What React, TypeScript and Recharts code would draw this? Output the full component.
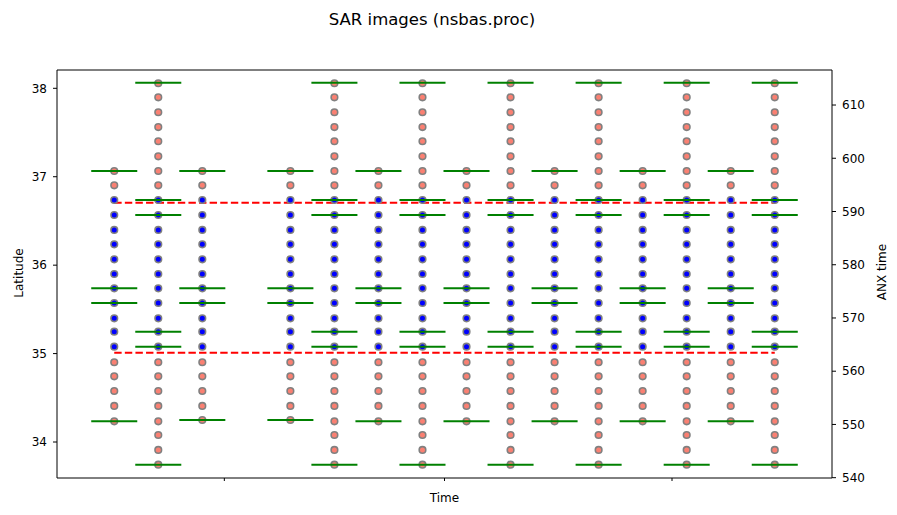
import React from 'react';
import { ComposedChart, ReferenceLine, Scatter, XAxis, YAxis } from 'recharts';

const FONT = '"DejaVu Sans", Verdana, sans-serif';

// acquisition dates, in days from the first image (one date missing at day 18)
const DATES = [0, 6, 12, 24, 30, 36, 42, 48, 54, 60, 66, 72, 78, 84, 90];

// which frame was acquired on each date
const FRAMES = ['S', 'L', 'Sb', 'Sb', 'L', 'S', 'L', 'S', 'L', 'S', 'L', 'S', 'L', 'S', 'L'];

// burst centre latitudes of each frame
const LONG_BURSTS = [
  38.057, 37.898, 37.729, 37.562, 37.401, 37.231, 37.065, 36.903, 36.737,
  36.567, 36.398, 36.236, 36.066, 35.9, 35.738, 35.572, 35.399, 35.248,
  35.078, 34.902, 34.743, 34.577, 34.408, 34.234, 34.079, 33.91, 33.744,
];
const SHORT_BURSTS = [
  37.065, 36.903, 36.737, 36.567, 36.398, 36.236, 36.066, 35.9, 35.738,
  35.572, 35.399, 35.248, 35.078, 34.902, 34.743, 34.577, 34.408, 34.234,
];
const SHORT_BURSTS_B = [
  37.065, 36.903, 36.737, 36.567, 36.398, 36.236, 36.066, 35.9, 35.738,
  35.572, 35.399, 35.248, 35.078, 34.902, 34.743, 34.577, 34.408, 34.249,
];

// subswath limits (green marks)
const LONG_EDGES = [38.063, 36.737, 36.567, 35.248, 35.078, 33.744];
const SHORT_EDGES = [37.065, 35.738, 35.572, 34.234];
const SHORT_EDGES_B = [37.065, 35.738, 35.572, 34.249];

// area of interest
const LAT_MIN = 35.01;
const LAT_MAX = 36.706;
const HALF_BURST = 0.083;
const HALF_SPAN_DAYS = 3;

const LAT_DOMAIN = [33.593, 38.207];
const LAT_TICKS = [34, 35, 36, 37, 38];
const ANX_DOMAIN = [539.94, 616.58];
const ANX_TICKS = [540, 550, 560, 570, 580, 590, 600, 610];
const TIME_DOMAIN = [-7.8, 97.8];
const TIME_TICKS = [15, 45, 76];

const BURSTS: Record<string, number[]> = { L: LONG_BURSTS, S: SHORT_BURSTS, Sb: SHORT_BURSTS_B };
const EDGES: Record<string, number[]> = { L: LONG_EDGES, S: SHORT_EDGES, Sb: SHORT_EDGES_B };

const points = DATES.flatMap((d, i) => BURSTS[FRAMES[i]].map((lat) => ({ x: d, y: lat })));
const isInside = (p: { y: number }) => p.y - HALF_BURST < LAT_MAX && p.y + HALF_BURST > LAT_MIN;
const insidePts = points.filter(isInside);
const outsidePts = points.filter((p) => !isInside(p));

const segments = DATES.flatMap((d, i) =>
  EDGES[FRAMES[i]].map((lat) => [
    { x: d - HALF_SPAN_DAYS, y: lat },
    { x: d + HALF_SPAN_DAYS, y: lat },
  ])
);

const boxLines = [LAT_MIN, LAT_MAX].map((lat) => [
  { x: DATES[0], y: lat },
  { x: DATES[DATES.length - 1], y: lat },
]);

const dot = (fill: string) => (props: any) =>
  <circle cx={props.cx} cy={props.cy} r={3.3} fill={fill} stroke="#808080" strokeWidth={1.6} />;
const noDot = () => <g />;

const tickStyle = { fill: '#000', fontSize: 12, fontFamily: FONT };

export default function App() {
  return (
    <div style={{ position: 'absolute', left: 0, top: 0, width: 897, height: 515, background: '#fff' }}>
      <ComposedChart width={897} height={515} margin={{ top: 70, right: 0, bottom: 0, left: 0 }}>
        <XAxis
          dataKey="x"
          type="number"
          domain={TIME_DOMAIN}
          allowDataOverflow
          ticks={TIME_TICKS}
          tickFormatter={() => ''}
          tickSize={3}
          height={37}
          stroke="#000"
          tick={tickStyle}
        />
        <YAxis
          dataKey="y"
          type="number"
          domain={LAT_DOMAIN}
          allowDataOverflow
          ticks={LAT_TICKS}
          width={57}
          tickSize={4}
          tickMargin={6}
          stroke="#000"
          tick={tickStyle}
        />
        <YAxis
          yAxisId="anx"
          orientation="right"
          type="number"
          domain={ANX_DOMAIN}
          allowDataOverflow
          ticks={ANX_TICKS}
          width={65}
          tickSize={4}
          tickMargin={6}
          stroke="#000"
          tick={tickStyle}
        />
        <ReferenceLine y={LAT_DOMAIN[1]} stroke="#000" strokeWidth={1} />
        {boxLines.map((seg, i) => (
          <Scatter
            key={`box-${i}`}
            data={seg}
            shape={noDot}
            line={{ stroke: '#ff0000', strokeWidth: 2, strokeDasharray: '7.4 3.2' }}
            isAnimationActive={false}
          />
        ))}
        <Scatter data={outsidePts} shape={dot('#fa8072')} isAnimationActive={false} />
        <Scatter data={insidePts} shape={dot('#0000ff')} isAnimationActive={false} />
        {segments.map((seg, i) => (
          <Scatter
            key={`edge-${i}`}
            data={seg}
            shape={noDot}
            line={{ stroke: '#008000', strokeWidth: 2, strokeLinecap: 'square' }}
            isAnimationActive={false}
          />
        ))}
      </ComposedChart>
      <svg width={897} height={515} style={{ position: 'absolute', left: 0, top: 0, pointerEvents: 'none' }}>
        <text x={432} y={24.5} textAnchor="middle" fontSize={16.5} fontFamily={FONT} fill="#000">
          SAR images (nsbas.proc)
        </text>
        <text x={444.5} y={501.5} textAnchor="middle" fontSize={12} fontFamily={FONT} fill="#000">
          Time
        </text>
        <text transform="translate(23 273) rotate(-90)" textAnchor="middle" fontSize={12} fontFamily={FONT} fill="#000">
          Latitude
        </text>
        <text transform="translate(886 272) rotate(-90)" textAnchor="middle" fontSize={12} fontFamily={FONT} fill="#000">
          ANX time
        </text>
      </svg>
    </div>
  );
}
